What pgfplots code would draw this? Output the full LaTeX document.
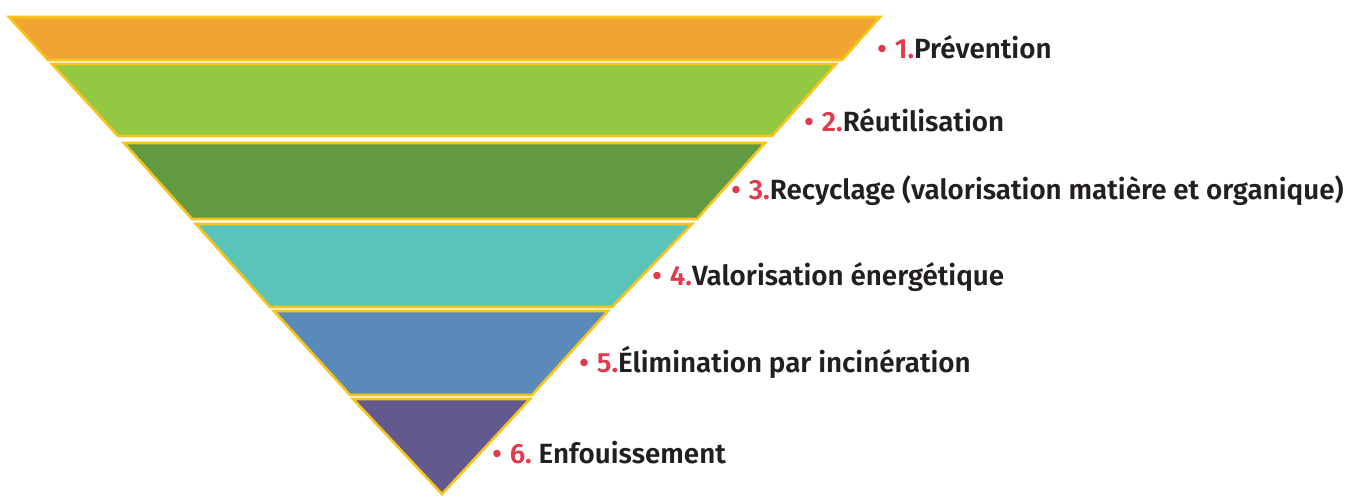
\documentclass[border=0pt]{standalone}
\usepackage{pgfplots}
\pgfplotsset{compat=1.18}
\usepackage{fontspec}
\setmainfont{Fira Sans}[BoldFont={Fira Sans SemiBold}]
\definecolor{c1}{HTML}{F0A532}
\definecolor{c2}{HTML}{93C843}
\definecolor{c3}{HTML}{629A42}
\definecolor{c4}{HTML}{5AC3BA}
\definecolor{c5}{HTML}{5A8AB9}
\definecolor{c6}{HTML}{62598F}
\definecolor{edge}{HTML}{F8C31A}
\definecolor{numred}{HTML}{E2394B}
\definecolor{txt}{HTML}{231F20}
\newcommand{\lab}[2]{{\color{numred}\textbullet\hspace{4pt}#1}{\color{txt}#2}}
\begin{document}
\begin{tikzpicture}
\begin{axis}[
  scale only axis, width=675pt, height=248pt,
  xmin=0, xmax=1350, ymin=0, ymax=496, y dir=reverse,
  hide axis, clip=false,
  every axis plot/.append style={draw=edge, line width=1.3pt, line join=miter},
]
\path (axis cs:0,0) rectangle (axis cs:1350,496);
\addplot[fill=c1] coordinates {(9,17) (880,17) (842,60) (48,60)} -- cycle;
\addplot[fill=c2] coordinates {(52,64) (836,64) (772,136) (118,136)} -- cycle;
\addplot[fill=c3] coordinates {(124,143) (765,143) (697,219) (192,219)} -- cycle;
\addplot[fill=c4] coordinates {(196,224) (692,224) (612,307) (270,307)} -- cycle;
\addplot[fill=c5] coordinates {(274,311) (608,311) (532,395) (350,395)} -- cycle;
\addplot[fill=c6] coordinates {(353,399) (530,399) (442,494)} -- cycle;
\begin{scope}[every node/.style={anchor=west, inner sep=0pt, font=\fontsize{13.9pt}{16pt}\selectfont\bfseries}]
\node at (axis cs:877,47) {\lab{1.}{Prévention}};
\node at (axis cs:804,120) {\lab{2.}{Réutilisation}};
\node at (axis cs:731,191) {\lab{3.}{Recyclage (valorisation matière et organique)}};
\node at (axis cs:652,277) {\lab{4.}{Valorisation énergétique}};
\node at (axis cs:579,362) {\lab{5.}{Élimination par incinération}};
\node at (axis cs:492,453) {\lab{6.\ }{Enfouissement}};
\end{scope}
\end{axis}
\end{tikzpicture}
\end{document}
